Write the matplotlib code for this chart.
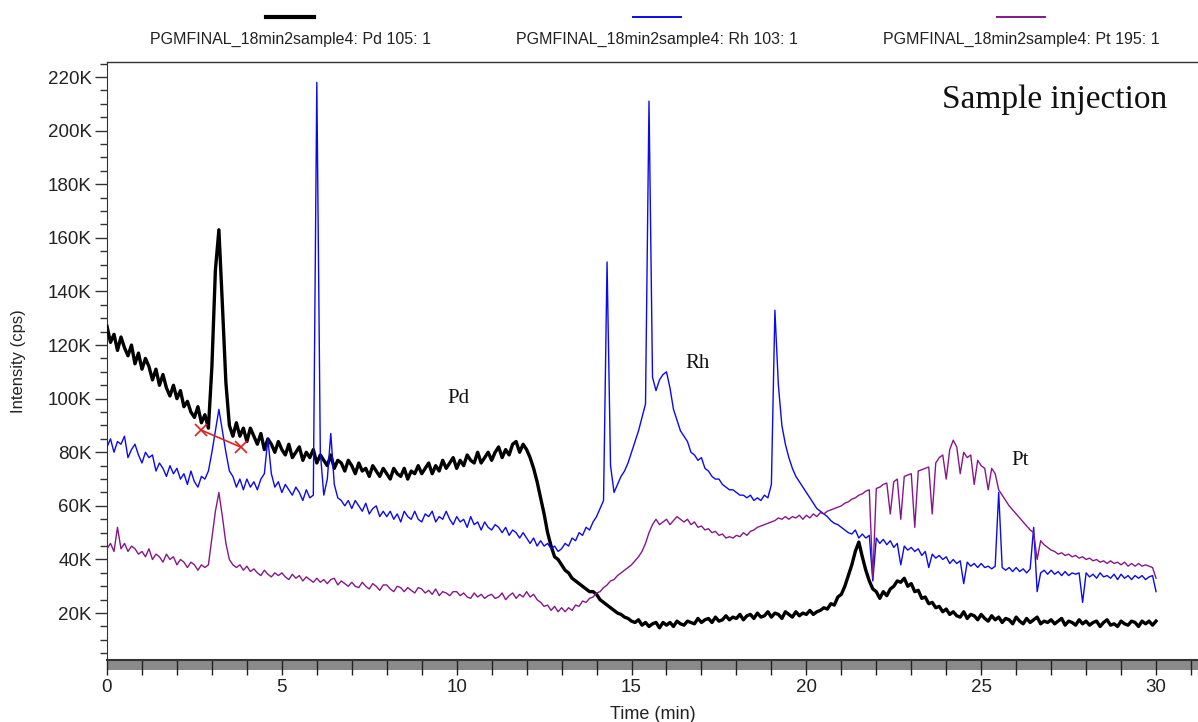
"""
ICP-MS kromatogramı: Pd 105, Rh 103, Pt 195 (örnek enjeksiyonu).
"""
import numpy as np
import matplotlib
matplotlib.use('Agg')
import matplotlib.pyplot as plt
from matplotlib.ticker import MultipleLocator, FuncFormatter
from matplotlib.patches import Rectangle
from matplotlib.lines import Line2D

# Tarama zamanı: 0-30 dk, 0.1 dk aralık
scan_time = np.round(np.arange(301) * 0.1, 1)

# Pd 105 izi (K cps), her satır 1 dakika
pd_kcps = [
    127, 121, 124, 118, 123, 119, 116, 120, 113, 117,
    111, 115, 112, 107, 111, 105, 109, 104, 101, 105,
    100, 103, 97, 99, 95, 93, 97, 91, 94, 89,
    112, 148, 163, 135, 106, 90, 86, 91, 86, 89,
    84, 89, 86, 83, 87, 81, 85, 83, 80, 84,
    81, 79, 83, 78, 80, 82, 77, 80, 78, 81,
    76, 79, 77, 75, 79, 74, 77, 76, 73, 77,
    75, 72, 76, 73, 74, 71, 75, 73, 71, 74,
    72, 70, 74, 72, 71, 74, 70, 73, 72, 75,
    72, 74, 76, 72, 75, 73, 77, 74, 76, 78,
    74, 77, 75, 79, 77, 76, 80, 76, 78, 80,
    77, 80, 82, 78, 81, 79, 83, 84, 80, 83,
    81, 78, 74, 69, 63, 57, 50, 45, 41, 40,
    38, 36, 35, 33, 32, 31, 30, 29, 28, 28,
    27, 25, 24, 23, 22, 21, 20, 19.5, 18.5, 18,
    17, 16.5, 17.5, 15.5, 16.5, 15, 16, 16.5, 14.5, 16.5,
    15.5, 16.5, 15, 17, 16, 15.5, 17, 16.5, 16, 18,
    16.5, 17.5, 18, 16.5, 18.5, 17, 17.5, 19, 17.5, 18.5,
    18, 19.5, 17.5, 19, 19.5, 18, 20, 18.5, 19, 20.5,
    18.5, 20, 19.5, 18, 20.5, 19.5, 18.5, 20.5, 19, 20,
    19.5, 21, 19.5, 20.5, 21, 22, 21.5, 23.5, 23, 26,
    27, 30, 34, 38, 43, 46.5, 41, 36, 32, 29,
    28, 25.5, 28, 26.5, 29, 30, 32, 31.5, 33, 30,
    31, 28, 28.5, 25.5, 26, 23.5, 24, 22, 22.5, 20.5,
    21.5, 19.5, 20.5, 19, 18.5, 20.5, 18, 19.5, 19, 17.5,
    19.5, 18, 17, 19, 17.5, 18.5, 16.5, 18, 17.5, 16,
    18.5, 17, 16, 18, 16.5, 17.5, 18.5, 16, 17, 16.5,
    17.5, 16, 17, 18, 15.5, 17, 16.5, 15.5, 17.5, 16,
    17, 15.5, 16.5, 17, 15, 16.5, 17.5, 15.5, 16, 15,
    17, 16, 15.5, 17, 16.5, 15, 17, 16, 17, 15.5,
    17,
]

# Rh 103 izi
rh_kcps = [
    82, 85, 80, 84, 83, 86, 78, 81, 83, 79,
    76, 80, 78, 79, 73, 76, 74, 71, 75, 72,
    74, 70, 72, 68, 73, 69, 67, 71, 70, 73,
    80, 88, 96, 88, 80, 73, 71, 67, 70, 66,
    70, 67, 69, 66, 70, 72, 85, 72, 67, 69,
    65, 68, 66, 64, 67, 65, 62, 66, 63, 64,
    218, 80, 64, 70, 87, 68, 63, 62, 60, 62,
    59, 62, 60, 58, 61, 57, 59, 60, 56, 58,
    56, 58, 55, 57, 54, 58, 56, 55, 58, 55,
    54, 57, 56, 58, 54, 56, 55, 58, 55, 53,
    56, 54, 55, 52, 56, 53, 54, 51, 54, 52,
    51, 53, 52, 50, 52, 49, 51, 50, 48, 50,
    48, 46, 48, 45, 47, 45, 46, 44, 45, 43,
    44, 46, 45, 48, 47, 50, 49, 52, 51, 54,
    56, 59, 62, 151, 75, 65, 68, 71, 73, 76,
    80, 84, 88, 93, 98, 211, 108, 103, 107, 109,
    110, 104, 96, 92, 88, 86, 84, 80, 79, 77,
    78, 74, 73, 71, 70, 70, 68, 67, 66, 66,
    65, 64, 64, 63, 64, 62, 63, 62, 64, 63,
    68, 133, 105, 90, 83, 78, 74, 71, 69, 67,
    65, 63, 61, 59, 58, 57, 56, 54.5, 53.5, 53,
    52, 51, 50, 49.5, 51, 48, 49.5, 48, 49, 32,
    48, 46, 47.5, 45.5, 47, 44.5, 46, 38, 45, 43.5,
    44.5, 43, 44, 41.5, 43, 37, 42, 40.5, 41.5, 40,
    41, 38.5, 40, 38.5, 39.5, 31, 39, 37.5, 38.5, 37,
    38.5, 37, 37.5, 36.5, 37.5, 65, 37, 36, 37, 35.5,
    37, 35.5, 36.5, 35, 36.5, 52, 28, 35, 36, 34.5,
    36, 34.5, 35.5, 34, 35.5, 34, 35, 34.5, 35, 24,
    35, 33.5, 34.5, 33, 35, 33.5, 34, 33, 34.5, 32.5,
    34.5, 33, 34, 32.5, 34, 33, 34, 32.5, 33.5, 34,
    28,
]

# Pt 195 izi
pt_kcps = [
    44, 46, 43, 52, 44, 46, 43, 45, 44, 42,
    43, 41, 44, 40, 42, 41, 39, 42, 40, 41,
    38, 40, 39, 37, 39, 38, 36, 38, 37, 38,
    48, 58, 65, 56, 46, 40, 38, 37, 38, 36,
    37.5, 35.5, 36.5, 35, 34, 36, 34.5, 33.5, 35, 34,
    35, 33.5, 32.5, 34.5, 33, 34, 32, 33.5, 32.5, 31.5,
    33, 31.5, 32.5, 31, 32.5, 33, 30.5, 32, 31, 30,
    31.5, 30, 29.5, 31.5, 30, 29, 31, 30, 28.5, 30.5,
    30.5, 29, 28, 30, 29.5, 28, 29.5, 28.5, 27.5, 29.5,
    29, 27.5, 28.5, 27, 29, 26.5, 28, 27.5, 26.5, 28,
    28, 26.5, 27.5, 26, 25.5, 27.5, 26, 27, 25.5, 26.5,
    27, 25.5, 26, 27.5, 25, 26.5, 27.5, 25.5, 27, 26,
    28, 26, 27, 25, 24, 22.5, 23, 21, 22.5, 20.5,
    22, 20.5, 22, 21, 23, 22.5, 24.5, 24, 25.5, 26,
    27.5, 28, 29.5, 30.5, 32, 32.5, 34, 35, 36, 37,
    38, 39.5, 41, 43, 46, 50, 53, 55, 53, 54,
    55, 53, 54.5, 56, 55, 54, 55, 53, 54, 52,
    52.5, 51, 51.5, 50, 50.5, 49, 49.5, 48, 48.5, 48,
    49, 48.5, 50, 49, 50.5, 51, 52, 52.5, 53, 53.5,
    54, 54.5, 55.5, 55, 56, 55, 56, 55.5, 56.5, 55,
    56.5, 55.5, 57, 56, 57.5, 57, 58, 58.5, 59, 59.5,
    60, 61, 61.5, 62.5, 63, 64, 64.5, 65.5, 66, 33,
    66.5, 67, 68, 68.5, 57, 69, 70, 55, 71, 71.5,
    72, 52, 73, 73.5, 74, 74.5, 57, 76, 78, 79,
    70, 81, 84.5, 82, 72, 80, 78, 79, 68, 77,
    75, 74, 66, 74, 72, 66, 64, 62, 60, 58.5,
    57, 55.5, 54, 52.5, 51, 50, 40, 47, 45.5, 44.5,
    43.5, 43, 42, 42.5, 41.5, 42, 41, 41.5, 40.5, 41,
    40, 40.5, 39.5, 40, 39, 39.5, 38.5, 39.5, 38.5, 39,
    38, 39, 37.5, 38.5, 37.5, 38.5, 37.5, 38, 37.5, 37,
    33,
]

series_labels = ['PGMFINAL_18min2sample4: Pd 105: 1',
                 'PGMFINAL_18min2sample4: Rh 103: 1',
                 'PGMFINAL_18min2sample4: Pt 195: 1']
series_colors = ['black', '#0a0aee', '#86178a']

# Kırmızı entegrasyon çizgisi (Pd piki tabanı)
base_time = [2.69, 3.83]
base_kcps = [88.3, 81.9]

SANS = 'Liberation Sans'
SERIF = 'Liberation Serif'

fig = plt.figure(figsize=(11.98, 7.22), dpi=100)
ax = fig.add_axes([107 / 1198, 1 - 660 / 722, 1 - 107 / 1198, (660 - 62) / 722])

ax.plot(scan_time, pd_kcps, color=series_colors[0], linewidth=2.4, zorder=3)
ax.plot(scan_time, rh_kcps, color=series_colors[1], linewidth=1.0, zorder=4)
ax.plot(scan_time, pt_kcps, color=series_colors[2], linewidth=1.0, zorder=4)
ax.plot(base_time, base_kcps, color='#e02020', linewidth=1.2, marker='x',
        markersize=8, markeredgewidth=1.2, zorder=5)

ax.set_xlim(0, 31.2)
ax.set_ylim(2.5, 225.6)

# Eksen görünümü
ax.spines['right'].set_visible(False)
ax.spines['bottom'].set_visible(False)
ax.spines['top'].set_color('#333333')
ax.spines['top'].set_linewidth(1.0)
ax.spines['left'].set_color('#333333')

ax.yaxis.set_major_locator(MultipleLocator(20))
ax.yaxis.set_minor_locator(MultipleLocator(5))
ax.yaxis.set_major_formatter(FuncFormatter(lambda v, p: f'{int(round(v))}K'))
ax.xaxis.set_major_locator(MultipleLocator(5))
ax.xaxis.set_minor_locator(MultipleLocator(1))
ax.xaxis.set_major_formatter(FuncFormatter(lambda v, p: f'{int(round(v))}'))

ax.tick_params(axis='y', which='major', direction='out', length=9, width=1, color='#333333',
               labelsize=13.5, pad=2)
ax.tick_params(axis='y', which='minor', direction='out', length=5, width=1, color='#333333')
ax.tick_params(axis='x', which='both', direction='out', length=11, width=1, color='#222222',
               labelsize=13.5, pad=3)
for lab in ax.get_xticklabels() + ax.get_yticklabels():
    lab.set_family(SANS)
    lab.set_color('#222222')

# X ekseni altındaki gri şerit
ax.add_patch(Rectangle((0, -0.016), 1, 0.016, transform=ax.transAxes, facecolor='#8a8a8a',
                       edgecolor='none', clip_on=False, zorder=1))
ax.add_line(Line2D([0, 1], [0, 0], transform=ax.transAxes, color='#333333', linewidth=1.5,
                   clip_on=False, zorder=2))

ax.set_xlabel('Time (min)', fontsize=13, family=SANS, color='#222222', labelpad=7)
ax.set_ylabel('Intensity (cps)', fontsize=12, family=SANS, color='#222222', labelpad=16)

# Etiketler
fig.text(1167 / 1198, 1 - 108 / 722, 'Sample injection', family=SERIF, fontsize=24,
         ha='right', va='baseline', color='#111111')
ax.text(10.05, 100, 'Pd', family=SERIF, fontsize=15, ha='center', va='center', color='#111111')
ax.text(16.9, 113, 'Rh', family=SERIF, fontsize=15, ha='center', va='center', color='#111111')
ax.text(26.1, 77, 'Pt', family=SERIF, fontsize=15, ha='center', va='center', color='#111111')

# Üstteki açıklama (legend)
legend_x = [290, 657, 1021]
legend_w = [3.0, 1.4, 1.4]
for cx, lw, color, label in zip(legend_x, legend_w, series_colors, series_labels):
    fig.add_artist(Line2D([(cx - 24) / 1198, (cx + 24) / 1198], [1 - 17 / 722] * 2,
                          color=color, linewidth=lw))
    fig.text(cx / 1198, 1 - 39 / 722, label, family=SANS, fontsize=11.5, ha='center',
             va='center', color='#222222')

plt.savefig('out.png', dpi=100)
